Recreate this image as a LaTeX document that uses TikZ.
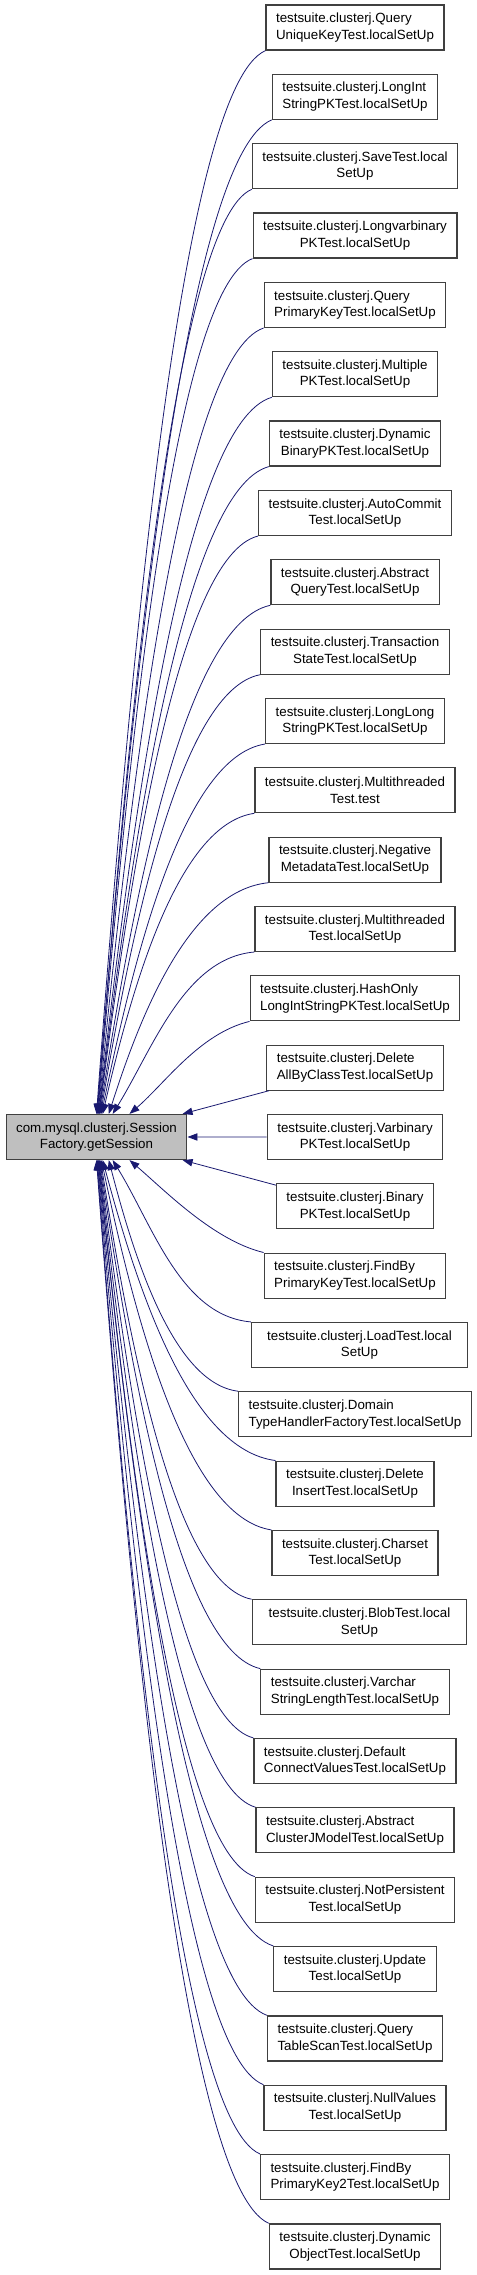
\documentclass[tikz,border=0pt]{standalone}
\usepackage{fontspec}
\setmainfont{Liberation Sans}
\usetikzlibrary{arrows.meta}

\begin{document}
\begin{tikzpicture}[x=0.75pt,y=0.75pt,yscale=-1,xscale=1,
  box/.style={draw={rgb,255:red,64;green,64;blue,64},line width=0.9pt,fill=white,minimum height=33.75pt,inner xsep=7.5pt,inner ysep=2pt,align=center,font=\fontsize{10}{12.5}\selectfont},
  edge/.style={color={rgb,255:red,25;green,25;blue,112},line width=0.6pt,-{Triangle[length=7.5pt,width=5.5pt]}}]
\useasboundingbox (0,0) rectangle (477,2275);

\draw (96.5,1137) node [box,fill={rgb,255:red,191;green,191;blue,191}] (get) {com.mysql.clusterj.Session\\Factory.getSession};

\draw (355,27.5) node [box,align=left] (t1) {testsuite.clusterj.Query\\UniqueKeyTest.localSetUp};
\draw (355,96.8) node [box,align=left] (t2) {testsuite.clusterj.LongInt\\StringPKTest.localSetUp};
\draw (355,166.2) node [box] (t3) {testsuite.clusterj.SaveTest.local\\SetUp};
\draw (355,235.5) node [box] (t4) {testsuite.clusterj.Longvarbinary\\PKTest.localSetUp};
\draw (355,304.9) node [box,align=left] (t5) {testsuite.clusterj.Query\\PrimaryKeyTest.localSetUp};
\draw (355,374.2) node [box] (t6) {testsuite.clusterj.Multiple\\PKTest.localSetUp};
\draw (355,443.5) node [box] (t7) {testsuite.clusterj.Dynamic\\BinaryPKTest.localSetUp};
\draw (355,512.9) node [box] (t8) {testsuite.clusterj.AutoCommit\\Test.localSetUp};
\draw (355,582.2) node [box] (t9) {testsuite.clusterj.Abstract\\QueryTest.localSetUp};
\draw (355,651.6) node [box] (t10) {testsuite.clusterj.Transaction\\StateTest.localSetUp};
\draw (355,720.9) node [box] (t11) {testsuite.clusterj.LongLong\\StringPKTest.localSetUp};
\draw (355,790.2) node [box] (t12) {testsuite.clusterj.Multithreaded\\Test.test};
\draw (355,859.6) node [box] (t13) {testsuite.clusterj.Negative\\MetadataTest.localSetUp};
\draw (355,928.9) node [box] (t14) {testsuite.clusterj.Multithreaded\\Test.localSetUp};
\draw (355,998.3) node [box,align=left] (t15) {testsuite.clusterj.HashOnly\\LongIntStringPKTest.localSetUp};
\draw (355,1067.6) node [box,align=left] (t16) {testsuite.clusterj.Delete\\AllByClassTest.localSetUp};
\draw (355,1136.9) node [box] (t17) {testsuite.clusterj.Varbinary\\PKTest.localSetUp};
\draw (355,1206.3) node [box] (t18) {testsuite.clusterj.Binary\\PKTest.localSetUp};
\draw (355,1275.6) node [box,align=left] (t19) {testsuite.clusterj.FindBy\\PrimaryKeyTest.localSetUp};
\draw (359.5,1345) node [box,minimum width=162pt] (t20) {testsuite.clusterj.LoadTest.local\\SetUp};
\draw (355,1414.3) node [box,align=left] (t21) {testsuite.clusterj.Domain\\TypeHandlerFactoryTest.localSetUp};
\draw (355,1483.6) node [box] (t22) {testsuite.clusterj.Delete\\InsertTest.localSetUp};
\draw (355,1553) node [box] (t23) {testsuite.clusterj.Charset\\Test.localSetUp};
\draw (359.5,1622.3) node [box,minimum width=161pt] (t24) {testsuite.clusterj.BlobTest.local\\SetUp};
\draw (355,1691.7) node [box,align=left] (t25) {testsuite.clusterj.Varchar\\StringLengthTest.localSetUp};
\draw (355,1761) node [box,align=left] (t26) {testsuite.clusterj.Default\\ConnectValuesTest.localSetUp};
\draw (355,1830.3) node [box,align=left] (t27) {testsuite.clusterj.Abstract\\ClusterJModelTest.localSetUp};
\draw (355,1899.7) node [box] (t28) {testsuite.clusterj.NotPersistent\\Test.localSetUp};
\draw (355,1969) node [box] (t29) {testsuite.clusterj.Update\\Test.localSetUp};
\draw (355,2038.4) node [box,align=left] (t30) {testsuite.clusterj.Query\\TableScanTest.localSetUp};
\draw (355,2107.7) node [box] (t31) {testsuite.clusterj.NullValues\\Test.localSetUp};
\draw (355,2177) node [box,align=left] (t32) {testsuite.clusterj.FindBy\\PrimaryKey2Test.localSetUp};
\draw (355,2246.4) node [box] (t33) {testsuite.clusterj.Dynamic\\ObjectTest.localSetUp};

% callers above
\draw [edge] (t1.south west) .. controls +(-84,37) and +(34,-458) .. (get.90);
\draw [edge] (t2.south west) .. controls +(-86,35) and +(35,-428) .. (get.89);
\draw [edge] (t3.south west) .. controls +(-76,32) and +(31,-398) .. (get.88);
\draw [edge] (t4.south west) .. controls +(-78,30) and +(31,-368) .. (get.87);
\draw [edge] (t5.south west) .. controls +(-82,28) and +(33,-338) .. (get.86);
\draw [edge] (t6.south west) .. controls +(-86,25) and +(35,-308) .. (get.85);
\draw [edge] (t7.south west) .. controls +(-84,23) and +(34,-279) .. (get.84);
\draw [edge] (t8.south west) .. controls +(-79,20) and +(32,-249) .. (get.83);
\draw [edge] (t9.south west) .. controls +(-85,18) and +(34,-219) .. (get.82);
\draw [edge] (t10.south west) .. controls +(-79,15) and +(32,-189) .. (get.80);
\draw [edge] (t11.south west) .. controls +(-82,13) and +(33,-159) .. (get.78);
\draw [edge] (t12.south west) .. controls +(-76,11) and +(30,-130) .. (get.75);
\draw [edge] (t13.south west) .. controls +(-79,8) and +(32,-100) .. (get.62);
\draw [edge] (t14.south west) .. controls +(-70,6) and +(40,-65) .. (get.55);
\draw [edge] (t15.south west) .. controls +(-50,12) and +(35,-30) .. (get.35);
\draw [edge] (t16) -- (get);
\draw [edge] (t17) -- (get);
% callers below
\draw [edge] (t18) -- (get);
\draw [edge] (t19.north west) .. controls +(-50,-12) and +(35,30) .. (get.-35);
\draw [edge] (t20.north west) .. controls +(-70,-6) and +(40,65) .. (get.-55);
\draw [edge] (t21.north west) .. controls +(-64,-8) and +(26,100) .. (get.-62);
\draw [edge] (t22.north west) .. controls +(-86,-11) and +(35,130) .. (get.-75);
\draw [edge] (t23.north west) .. controls +(-85,-13) and +(34,160) .. (get.-78);
\draw [edge] (t24.north west) .. controls +(-76,-15) and +(30,190) .. (get.-80);
\draw [edge] (t25.north west) .. controls +(-80,-18) and +(32,219) .. (get.-82);
\draw [edge] (t26.north west) .. controls +(-76,-20) and +(31,249) .. (get.-83);
\draw [edge] (t27.north west) .. controls +(-78,-23) and +(31,279) .. (get.-84);
\draw [edge] (t28.north west) .. controls +(-77,-25) and +(31,309) .. (get.-85);
\draw [edge] (t29.north west) .. controls +(-88,-28) and +(35,339) .. (get.-86);
\draw [edge] (t30.north west) .. controls +(-84,-30) and +(34,368) .. (get.-87);
\draw [edge] (t31.north west) .. controls +(-82,-32) and +(33,398) .. (get.-88);
\draw [edge] (t32.north west) .. controls +(-81,-35) and +(32,428) .. (get.-89);
\draw [edge] (t33.north west) .. controls +(-85,-37) and +(34,458) .. (get.-90);
\end{tikzpicture}
\end{document}
